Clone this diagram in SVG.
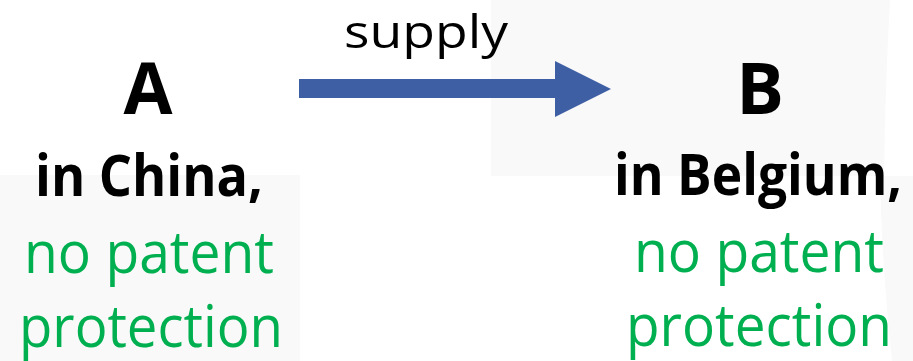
<svg xmlns="http://www.w3.org/2000/svg" width="913" height="361" viewBox="0 0 913 361">
  <style>
    .bg { fill: #f9f9f9; }
    .name { font-family: "Open Sans", "Liberation Sans", sans-serif; font-weight: 700; font-size: 71px; fill: #000; text-anchor: middle; }
    .place { font-family: "Open Sans", "Liberation Sans", sans-serif; font-weight: 700; font-size: 57px; fill: #000; text-anchor: middle; }
    .note { font-family: "Open Sans", "Liberation Sans", sans-serif; font-size: 59px; fill: #00b050; text-anchor: middle; }
    .label { font-family: "Open Sans", "Liberation Sans", sans-serif; font-size: 46px; fill: #000; text-anchor: middle; }
    .flow { fill: #3f5fa5; }
  </style>

  <!-- faint background panels -->
  <rect class="bg" x="0" y="175" width="300" height="186"/>
  <path class="bg" d="M491 0 H890 Q885 90 884 176 H491 Z"/>
  <path class="bg" d="M880 176 H913 V361 H892 Q882 270 880 176 Z"/>

  <g id="node-a">
    <text class="name" x="148" y="114">A</text>
    <text class="place" x="149" y="196" textLength="228" lengthAdjust="spacingAndGlyphs">in China,</text>
    <text class="note" x="149" y="273" textLength="250" lengthAdjust="spacingAndGlyphs">no patent</text>
    <text class="note" x="151" y="347" textLength="264" lengthAdjust="spacingAndGlyphs">protection</text>
  </g>

  <g id="node-b">
    <text class="name" x="760" y="114">B</text>
    <text class="place" x="758" y="195" textLength="288" lengthAdjust="spacingAndGlyphs">in Belgium,</text>
    <text class="note" x="759" y="272" textLength="250" lengthAdjust="spacingAndGlyphs">no patent</text>
    <text class="note" x="759" y="346" textLength="266" lengthAdjust="spacingAndGlyphs">protection</text>
  </g>

  <g id="connectors">
    <path class="flow" d="M299 79 H555 V61 L611 89 L555 117 V98 H299 Z"/>
    <text class="label" x="426" y="48" textLength="164" lengthAdjust="spacingAndGlyphs">supply</text>
  </g>
</svg>
